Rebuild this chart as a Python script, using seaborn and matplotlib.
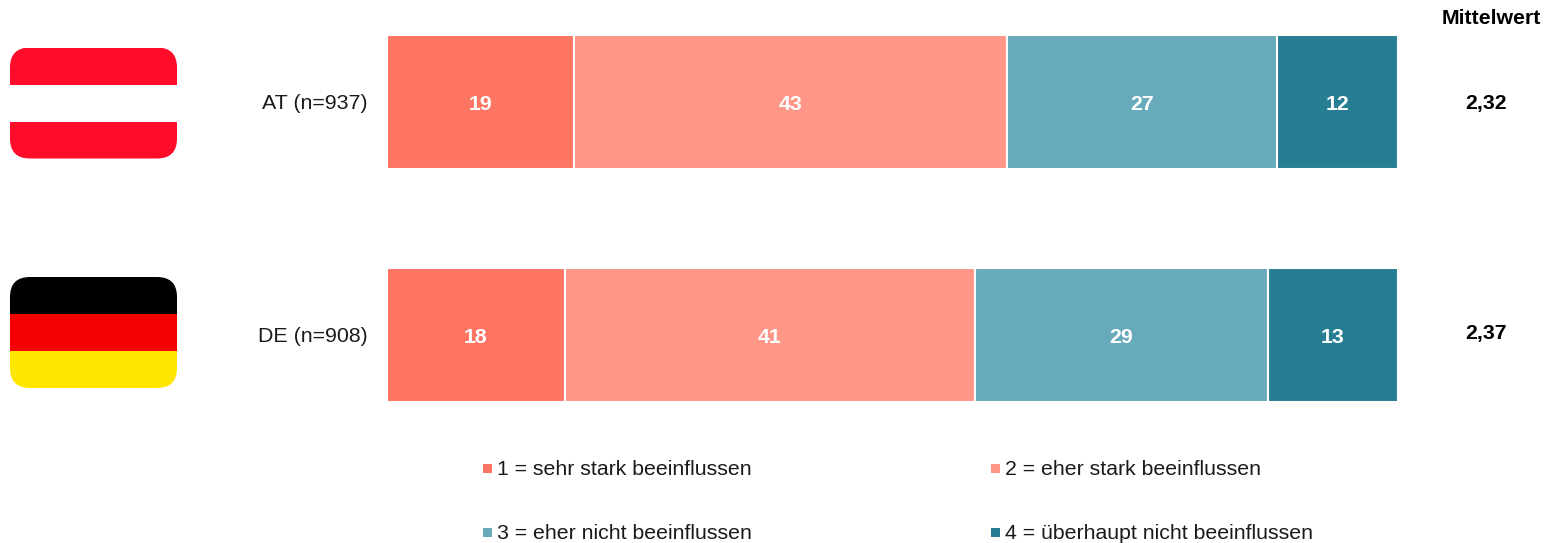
import matplotlib
matplotlib.use('Agg')
import matplotlib.pyplot as plt
from matplotlib.patches import FancyBboxPatch, Rectangle
import pandas as pd
import seaborn as sns

# daten
laender = ['AT (n=937)', 'DE (n=908)']
stufe_1 = [18.5, 17.6]
stufe_2 = [42.8, 40.6]
stufe_3 = [26.7, 28.9]
stufe_4 = [12.0, 12.9]
labels_1 = ['19', '18']
labels_2 = ['43', '41']
labels_3 = ['27', '29']
labels_4 = ['12', '13']
mittelwerte = ['2,32', '2,37']
legende = ['1 = sehr stark beeinflussen', '2 = eher stark beeinflussen',
           '3 = eher nicht beeinflussen', '4 = überhaupt nicht beeinflussen']
farben = ['#FF7563', '#FF9687', '#66AABB', '#277E93']
flagge_at = ['#FF0C2A', '#FFFFFF', '#FF0C2A']
flagge_de = ['#000000', '#F40000', '#FFE600']

W, H = 1546, 543
sns.set_theme(style='white')
plt.rcParams['font.family'] = ['Liberation Sans', 'DejaVu Sans']

df = pd.DataFrame({'land': laender, 's1': stufe_1, 's2': stufe_2, 's3': stufe_3, 's4': stufe_4})
spalten = ['s1', 's2', 's3', 's4']
texte = [labels_1, labels_2, labels_3, labels_4]

fig = plt.figure(figsize=(W / 100, H / 100), dpi=100)
ax = fig.add_axes([386.5 / W, 0, 1011.5 / W, 1])

# gestapelte balken
links = [0.0, 0.0]
for spalte, farbe, txt in zip(spalten, farben, texte):
    sns.barplot(data=df, y='land', x=spalte, orient='h', color=farbe, width=133.5 / 233,
                left=links, saturation=1, edgecolor='white', linewidth=1.5, ax=ax)
    for i in range(2):
        ax.text(links[i] + df[spalte][i] / 2, i + 0.012, txt[i], ha='center', va='center',
                color='white', fontsize=15.3, fontweight='bold')
        links[i] += df[spalte][i]

ax.set_xlim(0, 100)
ax.set_ylim((H - 102) / 233, -102 / 233)
ax.set_xlabel('')
ax.set_ylabel('')
ax.set_xticks([])
ax.set_yticks([])
sns.despine(ax=ax, left=True, bottom=True)

# overlay in pixeln fuer text, flaggen, legende
ov = fig.add_axes([0, 0, 1, 1])
ov.set_xlim(0, W)
ov.set_ylim(H, 0)
ov.axis('off')
ov.patch.set_alpha(0)


def flagge(y0, farben_flagge):
    form = FancyBboxPatch((10 + 20, y0 + 20), 167 - 40, 111 - 40, boxstyle='round,pad=20',
                          facecolor='none', edgecolor='none')
    ov.add_patch(form)
    for k, c in enumerate(farben_flagge):
        r = Rectangle((10, y0 + k * 37), 167, 37, facecolor=c, edgecolor='none')
        ov.add_patch(r)
        r.set_clip_path(form)


flagge(47.5, flagge_at)
flagge(277, flagge_de)

ov.text(368, 103.5, laender[0], ha='right', va='center', fontsize=15.4, color='#1a1a1a')
ov.text(368, 336.5, laender[1], ha='right', va='center', fontsize=15.4, color='#1a1a1a')
ov.text(1491, 18, 'Mittelwert', ha='center', va='center', fontsize=15.3, fontweight='bold', color='black')
ov.text(1486, 103, mittelwerte[0], ha='center', va='center', fontsize=15.3, fontweight='bold', color='black')
ov.text(1486, 333, mittelwerte[1], ha='center', va='center', fontsize=15.3, fontweight='bold', color='black')

# legende
pos = [(483, 468.5), (991, 468.5), (483, 532.5), (991, 532.5)]
for (x, y), t, c in zip(pos, legende, farben):
    ov.add_patch(Rectangle((x, y - 5), 9, 9, facecolor=c, edgecolor='none'))
    ov.text(x + 14, y + 1, t, ha='left', va='center', fontsize=15.3, color='#1a1a1a')

fig.savefig('out.png', dpi=100, facecolor='white')
